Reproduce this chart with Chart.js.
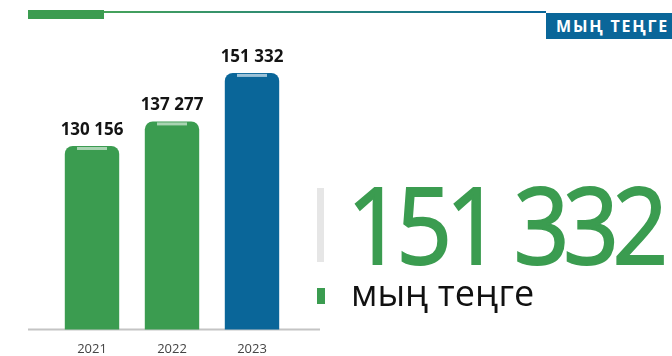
<!DOCTYPE html>
<html>
<head>
<meta charset="utf-8">
<script src="https://cdn.jsdelivr.net/npm/chart.js@4"></script>
<style>
  html, body { margin: 0; padding: 0; background: #fff; }
  #wrap { position: relative; width: 672px; height: 356px; overflow: hidden; font-family: "Open Sans", sans-serif; }
  #chart { position: absolute; left: 0; top: 0; }
  .topBar { position: absolute; left: 28px; top: 10px; width: 76px; height: 9px; background: #3b9c50; }
  .topLine { position: absolute; left: 104px; top: 11px; width: 442px; height: 2px; background: linear-gradient(to right, #46a35a, #0a6699); }
  .unitBox { position: absolute; left: 546px; top: 13px; width: 126px; height: 26px; background: #0a6699; color: #fff;
             font-weight: 700; font-size: 16px; line-height: 26px; padding-left: 10px; letter-spacing: 1.8px;
             box-sizing: border-box; white-space: nowrap; overflow: hidden; }
  .sepGray { position: absolute; left: 317px; top: 188px; width: 7px; height: 74px; background: #e6e6e6; }
  .sepGreen { position: absolute; left: 317px; top: 288px; width: 8px; height: 16px; background: #3b9c50; }
  #bigNum { position: absolute; left: 347px; top: 158px; font-size: 106px; line-height: 130px; color: #3b9c50;
            -webkit-text-stroke: 2px #3b9c50; letter-spacing: -7px; white-space: nowrap;
            transform: scaleX(0.92); transform-origin: left top; }
  .unitText { position: absolute; left: 351px; top: 271px; font-size: 36px; line-height: 44px; color: #111; white-space: nowrap; }
</style>
</head>
<body>
<div id="wrap">
  <canvas id="chart" width="672" height="369"></canvas>
  <div class="topBar"></div>
  <div class="topLine"></div>
  <div class="unitBox">МЫҢ ТЕҢГЕ</div>
  <div class="sepGray"></div>
  <div id="bigNum"></div>
  <div class="sepGreen"></div>
  <div class="unitText">мың теңге</div>
</div>
<script>
const years = ['2021', '2022', '2023'];
const values = [130156, 137277, 151332];
const barColors = ['#3b9c50', '#3b9c50', '#0a6699'];
const capColors = ['#a9d4b2', '#a9d4b2', '#9cc2d8'];

// 130156 -> "130 156"
const fmt = v => String(v).replace(/\B(?=(\d{3})+(?!\d))/g, ' ');

document.getElementById('bigNum').textContent = fmt(values[values.length - 1]);

const barExtras = {
    id: 'barExtras',
    beforeDatasetsDraw(chart) {
        const ctx = chart.ctx;
        const y0 = chart.scales.y.bottom;
        ctx.save();
        ctx.strokeStyle = '#c4c4c4';
        ctx.lineWidth = 2;
        ctx.beginPath();
        ctx.moveTo(28, y0);
        ctx.lineTo(320, y0);
        ctx.stroke();
        ctx.restore();
    },
    afterDatasetsDraw(chart) {
        const ctx = chart.ctx;
        const meta = chart.getDatasetMeta(0);
        ctx.save();
        meta.data.forEach((bar, i) => {
            // light cap strip on top of the bar
            ctx.fillStyle = capColors[i];
            ctx.fillRect(bar.x - 15, bar.y + 1, 30, 3);
            // value label
            ctx.fillStyle = '#141414';
            ctx.font = 'bold 17px "Open Sans"';
            ctx.textAlign = 'center';
            ctx.textBaseline = 'middle';
            ctx.fillText(fmt(values[i]), bar.x, bar.y - 16);
        });
        ctx.restore();
    }
};

const cxc = document.getElementById('chart').getContext('2d');
const barChart = new Chart(cxc, {
    type: 'bar',
    data: {
        labels: years,
        datasets: [{
            data: values,
            backgroundColor: barColors,
            borderRadius: { topLeft: 8, topRight: 8 },
            borderSkipped: 'bottom',
            barPercentage: 0.68,
            categoryPercentage: 1
        }]
    },
    options: {
        responsive: false,
        animation: false,
        layout: {
            padding: { left: 52, right: 380, top: 43, bottom: 0 }
        },
        plugins: {
            legend: { display: false },
            tooltip: { enabled: false }
        },
        scales: {
            x: {
                grid: { display: false, drawTicks: false },
                border: { display: false },
                ticks: {
                    color: '#444',
                    font: { family: 'Open Sans', size: 13 },
                    padding: 12
                }
            },
            y: {
                display: false,
                min: 77000,
                max: 160000
            }
        }
    },
    plugins: [barExtras]
});
</script>
</body>
</html>
